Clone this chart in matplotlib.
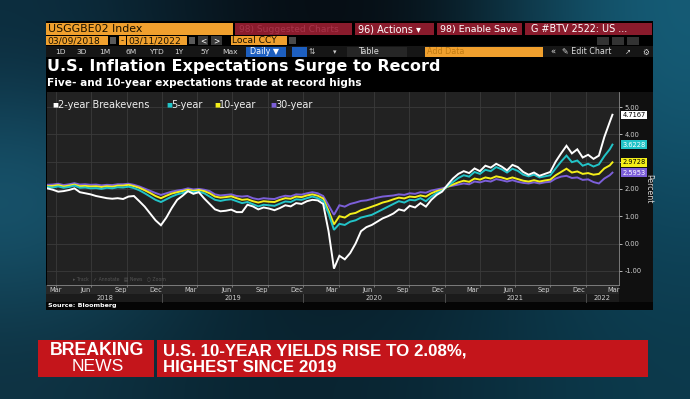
import numpy as np
import pandas as pd
import matplotlib
matplotlib.use("Agg")
import matplotlib.pyplot as plt
import matplotlib.patches as patches
import matplotlib.dates as mdates
import matplotlib.transforms as mtrans

# --- data (biweekly points) ---
start_date = "2018-03-09"
end_date = "2022-03-11"
dates = list(pd.date_range(start_date, periods=105, freq="14D")) + [pd.Timestamp(end_date)]

be2 = [2.02, 1.97, 1.90, 1.92, 1.96, 2.02, 1.88, 1.84, 1.80, 1.74,
       1.70, 1.66, 1.64, 1.66, 1.63, 1.72, 1.74, 1.55, 1.35, 1.10,
       0.85, 0.67, 0.95, 1.30, 1.60, 1.75, 1.92, 1.82, 1.88, 1.65,
       1.45, 1.25, 1.18, 1.20, 1.24, 1.15, 1.15, 1.42, 1.36, 1.25,
       1.32, 1.28, 1.22, 1.30, 1.40, 1.36, 1.48, 1.45, 1.55, 1.60,
       1.58, 1.45, 0.45, -0.92, -0.45, -0.58, -0.35, 0.00, 0.45, 0.60,
       0.68, 0.80, 0.92, 1.00, 1.10, 1.25, 1.20, 1.38, 1.32, 1.48,
       1.35, 1.60, 1.78, 1.90, 2.15, 2.38, 2.55, 2.65, 2.58, 2.75,
       2.65, 2.85, 2.78, 2.92, 2.82, 2.68, 2.88, 2.80, 2.62, 2.52,
       2.60, 2.48, 2.55, 2.62, 3.00, 3.30, 3.58, 3.30, 3.45, 3.15,
       3.25, 3.10, 3.22, 3.90, 4.45, 4.7167]
be5 = [2.07, 2.05, 2.09, 2.04, 2.07, 2.12, 2.04, 2.05, 2.02, 2.03,
       2.00, 2.04, 2.02, 2.06, 2.05, 2.08, 2.03, 1.95, 1.84, 1.72,
       1.60, 1.52, 1.62, 1.72, 1.80, 1.85, 1.92, 1.88, 1.90, 1.84,
       1.72, 1.60, 1.56, 1.60, 1.62, 1.55, 1.48, 1.52, 1.44, 1.36,
       1.42, 1.40, 1.38, 1.46, 1.54, 1.52, 1.62, 1.60, 1.66, 1.72,
       1.66, 1.55, 1.10, 0.50, 0.72, 0.68, 0.80, 0.85, 0.95, 1.00,
       1.05, 1.15, 1.25, 1.35, 1.45, 1.55, 1.50, 1.60, 1.58, 1.66,
       1.55, 1.72, 1.85, 1.93, 2.10, 2.25, 2.40, 2.50, 2.45, 2.62,
       2.55, 2.70, 2.65, 2.80, 2.72, 2.60, 2.74, 2.66, 2.52, 2.46,
       2.52, 2.42, 2.46, 2.50, 2.75, 3.00, 3.22, 2.98, 3.04, 2.85,
       2.92, 2.82, 2.90, 3.20, 3.45, 3.6228]
be10 = [2.10, 2.11, 2.14, 2.09, 2.12, 2.16, 2.10, 2.11, 2.09, 2.10,
        2.07, 2.10, 2.08, 2.12, 2.12, 2.15, 2.10, 2.04, 1.95, 1.85,
        1.74, 1.66, 1.75, 1.83, 1.88, 1.92, 1.97, 1.93, 1.96, 1.92,
        1.84, 1.72, 1.68, 1.70, 1.73, 1.66, 1.60, 1.62, 1.55, 1.50,
        1.55, 1.53, 1.52, 1.60, 1.66, 1.64, 1.72, 1.70, 1.76, 1.80,
        1.75, 1.65, 1.20, 0.70, 1.00, 0.95, 1.08, 1.12, 1.22, 1.28,
        1.35, 1.42, 1.50, 1.55, 1.62, 1.68, 1.65, 1.72, 1.70, 1.76,
        1.72, 1.84, 1.92, 1.97, 2.08, 2.16, 2.24, 2.30, 2.26, 2.38,
        2.34, 2.42, 2.38, 2.46, 2.42, 2.36, 2.42, 2.36, 2.30, 2.27,
        2.32, 2.27, 2.31, 2.34, 2.50, 2.62, 2.74, 2.60, 2.64, 2.55,
        2.58, 2.52, 2.55, 2.75, 2.86, 2.9728]
be30 = [2.15, 2.16, 2.19, 2.14, 2.17, 2.21, 2.16, 2.17, 2.15, 2.16,
        2.13, 2.15, 2.14, 2.17, 2.17, 2.19, 2.15, 2.09, 2.01, 1.93,
        1.85, 1.78, 1.84, 1.90, 1.94, 1.97, 2.02, 1.98, 2.00, 1.97,
        1.92, 1.80, 1.76, 1.78, 1.80, 1.74, 1.72, 1.74, 1.66, 1.62,
        1.66, 1.64, 1.63, 1.70, 1.75, 1.73, 1.80, 1.79, 1.84, 1.88,
        1.84, 1.74, 1.40, 1.05, 1.40, 1.35, 1.45, 1.50, 1.56, 1.58,
        1.63, 1.68, 1.72, 1.74, 1.76, 1.80, 1.78, 1.84, 1.82, 1.88,
        1.86, 1.94, 1.98, 2.02, 2.08, 2.12, 2.16, 2.20, 2.17, 2.27,
        2.24, 2.30, 2.27, 2.36, 2.32, 2.27, 2.32, 2.26, 2.22, 2.20,
        2.24, 2.20, 2.24, 2.26, 2.38, 2.45, 2.48, 2.40, 2.42, 2.33,
        2.35, 2.25, 2.20, 2.38, 2.50, 2.5953]

series_names = ["2-year Breakevens", "5-year", "10-year", "30-year"]
series_colors = ["#ffffff", "#22c4c8", "#f4ef1a", "#7c5fd9"]
label_text_colors = ["#000000", "#ffffff", "#000000", "#ffffff"]
last_labels = ["4.7167", "3.6228", "2.9728", "2.5953"]
y_ticks = [-1, 0, 1, 2, 3, 4, 5]
y_ticklabels = ["-1.00", "0.00", "1.00", "2.00", "", "4.00", "5.00"]  # 3.00 hidden under a tag
years = [2018, 2019, 2020, 2021, 2022]

W, H = 690, 399
fig = plt.figure(figsize=(W / 100, H / 100), dpi=100)

# background screen (pixel coordinates, y down)
bg = fig.add_axes([0, 0, 1, 1], zorder=0)
bg.set_xlim(0, W)
bg.set_ylim(H, 0)
bg.axis("off")
grad = np.array([
    [[12, 45, 62], [6, 12, 18], [6, 12, 18], [22, 95, 122]],
    [[28, 100, 128], [8, 24, 34], [8, 24, 34], [16, 74, 98]],
    [[14, 50, 66], [8, 34, 46], [10, 40, 54], [12, 58, 76]],
]) / 255.0
bg.imshow(grad, extent=(0, W, H, 0), interpolation="bicubic", aspect="auto")


def box(x0, y0, x1, y1, color, ax=bg, **kw):
    ax.add_patch(patches.Rectangle((x0, y0), x1 - x0, y1 - y0, color=color, lw=0, **kw))


def txt(x, y, s, ax=bg, size=6, color="white", ha="left", weight="normal", **kw):
    ax.text(x, y, s, fontsize=size, color=color, ha=ha, va="center", weight=weight, **kw)


# terminal window
box(46, 21, 653, 310, "#000000")
# row 1
box(46, 23, 233, 35, "#f0a02e")
txt(48, 29.3, "USGGBE02 Index", size=7.9, color="#1a1200")
red = "#8a1b2c"
box(235, 23, 352, 35, red)
txt(239, 29.3, "98) Suggested Charts", size=6.6, color="#a8344a")
box(355, 23, 434, 35, red)
txt(358, 29.3, "96) Actions \u25be", size=7.0)
box(437, 23, 522, 35, red)
txt(440, 29.3, "98) Enable Save", size=6.8)
box(525, 23, 652, 35, red)
txt(531, 29.3, "G #BTV 2522: US ...", size=6.9)
# row 2
org = "#f0a02e"
box(46, 36, 108, 45, org)
txt(47.5, 40.7, "03/09/2018", size=6.6, color="#1a1200")
box(110, 37, 116, 44, "#5a5a5a")
box(119, 36, 126, 45, org)
txt(122.5, 40.7, "-", size=6, color="#1a1200", ha="center")
box(127, 36, 187, 45, org)
txt(128, 40.7, "03/11/2022", size=6.6, color="#1a1200")
box(189, 37, 195, 44, "#5a5a5a")
box(198, 36, 208, 45, "#3a3a3a")
txt(203, 40.5, "<", size=5.5, ha="center")
box(211, 36, 222, 45, "#3a3a3a")
txt(216.5, 40.5, ">", size=5.5, ha="center")
box(231, 36, 287, 45, org)
txt(232, 40.7, "Local CCY", size=6.6, color="#1a1200")
box(289, 37, 296, 44, "#4a4a4a")
for xi in (597, 612, 627):
    box(xi, 37, xi + 12, 45, "#333333")
# row 3
box(46, 46, 653, 57, "#161616")
for lab, xc in zip(["1D", "3D", "1M", "6M", "YTD", "1Y", "5Y", "Max"],
                   [60, 82, 105, 131, 156, 179, 205, 230]):
    txt(xc, 52, lab, size=5.4, color="#d8d8d8", ha="center")
box(246, 47, 286, 57, "#1d5fc0")
txt(250, 52, "Daily \u25bc", size=5.8)
box(292, 47, 307, 57, "#1d5fc0")
txt(312, 52, "\u21c5", size=5.5, color="#cccccc", ha="center")
txt(335, 52, "\u25be", size=5, color="#cccccc", ha="center")
box(347, 47, 407, 57, "#262626")
txt(358, 52, "Table", size=5.8, color="#dddddd")
box(425, 47, 543, 57, org)
txt(427, 52, "Add Data", size=5.8, color="#c07a10")
txt(553, 52, "\u00ab", size=6, color="#dddddd", ha="center")
txt(562, 52, "\u270e Edit Chart", size=5.8, color="#dddddd")
txt(628, 52, "\u2197", size=5, color="#dddddd", ha="center")
txt(646, 52, "\u2699", size=5.5, color="#dddddd", ha="center")

# titles
txt(47, 67, "U.S. Inflation Expectations Surge to Record", size=11.5, weight="bold")
txt(47, 83.5, "Five- and 10-year expectations trade at record highs", size=7.6, weight="bold")

# chart bands
box(46, 285, 619, 294, "#282828")
box(46, 294, 619, 302, "#1b1b1b")
box(619, 92, 653, 302, "#101010")
box(46, 302, 653, 310, "#050505")
txt(48, 305.5, "Source: Bloomberg", size=4.6, weight="bold")

# breaking news banner
box(38, 340, 154, 377, "#c4151b")
box(157, 340, 648, 377, "#c4151b")
narrow = ["Liberation Sans Narrow", "Liberation Sans", "DejaVu Sans"]
txt(97, 350.5, "BREAKING", size=12.8, weight="bold", ha="center", family=narrow)
txt(97.5, 366.5, "NEWS", size=12.6, ha="center", family=narrow)
txt(163, 351.5, "U.S. 10-YEAR YIELDS RISE TO 2.08%,", size=12.2, weight="bold", family=narrow)
txt(163, 367.5, "HIGHEST SINCE 2019", size=12.2, weight="bold", family=narrow)

# --- the chart itself ---
px_l, px_r, px_t, px_b = 47, 619, 92, 285
ax = fig.add_axes([px_l / W, 1 - px_b / H, (px_r - px_l) / W, (px_b - px_t) / H], zorder=1)
ax.set_facecolor("#222222")

for vals, c in zip([be30, be10, be5, be2], series_colors[::-1]):
    ax.plot(dates, vals, color=c, lw=1.4, solid_joinstyle="miter")

ax.set_xlim(pd.Timestamp("2018-03-08"), pd.Timestamp("2022-03-28"))
ax.set_ylim(-1.52, 5.55)

ax.yaxis.tick_right()
ax.set_yticks(y_ticks)
ax.set_yticklabels(y_ticklabels)
ax.tick_params(axis="y", labelsize=4.8, colors="#d0d0d0", length=2.5, width=0.6, pad=1.5)
ax.yaxis.set_label_position("right")
ax.set_ylabel("Percent", rotation=270, fontsize=5.6, color="#d8d8d8", labelpad=8)

q_labels = pd.date_range("2018-03-01", "2022-03-01", freq="3MS") + pd.Timedelta(days=14)
ax.set_xticks(q_labels)
ax.set_xticklabels([d.strftime("%b") for d in q_labels])
ax.get_xticklabels()[0].set_horizontalalignment("left")
ax.tick_params(axis="x", which="major", labelsize=4.8, colors="#d0d0d0", length=0, pad=1.5)
ax.set_xticks(pd.date_range("2018-04-01", "2022-03-01", freq="QS-JAN"), minor=True)
ax.tick_params(axis="x", which="minor", length=1.5, color="#999999", width=0.5)
ax.grid(which="minor", axis="x", color="#3a3a3a", lw=0.6)
ax.grid(which="major", axis="y", color="#3a3a3a", lw=0.6)
ax.set_axisbelow(True)
for s in ("top", "left"):
    ax.spines[s].set_visible(False)
ax.spines["bottom"].set_color("#8a8a8a")
ax.spines["right"].set_color("#8a8a8a")
ax.spines["bottom"].set_linewidth(0.6)
ax.spines["right"].set_linewidth(0.6)

# year labels under the month labels
trans = mtrans.blended_transform_factory(ax.transData, ax.transAxes)
x0, x1 = ax.get_xlim()
for yr in years:
    a = max(mdates.date2num(pd.Timestamp(f"{yr}-01-01")), x0)
    b = min(mdates.date2num(pd.Timestamp(f"{yr + 1}-01-01")), x1)
    ax.text((a + b) / 2, -0.068, str(yr), transform=trans, fontsize=4.8,
            color="#d0d0d0", ha="center", va="center", clip_on=False)
    if yr > 2018:
        ax.plot([a, a], [-0.045, -0.088], transform=trans, color="#555555",
                lw=0.6, clip_on=False)

# faint chart toolbar
ax.text(0.045, 0.035, "\u25b8 Track   \u2713 Annotate   \u25a4 News   \u25cb Zoom",
        transform=ax.transAxes, fontsize=3.3, color="#555555", va="center")

# legend
lx = 0.01
for name, c in zip(series_names, series_colors):
    ax.text(lx, 0.935, "\u25a0", transform=ax.transAxes, fontsize=4.5, color=c, va="center")
    ax.text(lx + 0.009, 0.935, name, transform=ax.transAxes, fontsize=7, color="#eeeeee", va="center")
    lx += {"2-year Breakevens": 0.198, "5-year": 0.084, "10-year": 0.098}.get(name, 0)

# last value tags on the right
for vals, c, tc, lab in zip([be2, be5, be10, be30], series_colors, label_text_colors, last_labels):
    ax.annotate(lab, xy=(1.0, vals[-1]), xycoords=("axes fraction", "data"),
                xytext=(2.5, 0), textcoords="offset points", fontsize=4.8, color=tc,
                va="center", ha="left", annotation_clip=False,
                bbox=dict(boxstyle="square,pad=0.18", fc=c, ec="none"))

fig.savefig("out.png", dpi=100)
